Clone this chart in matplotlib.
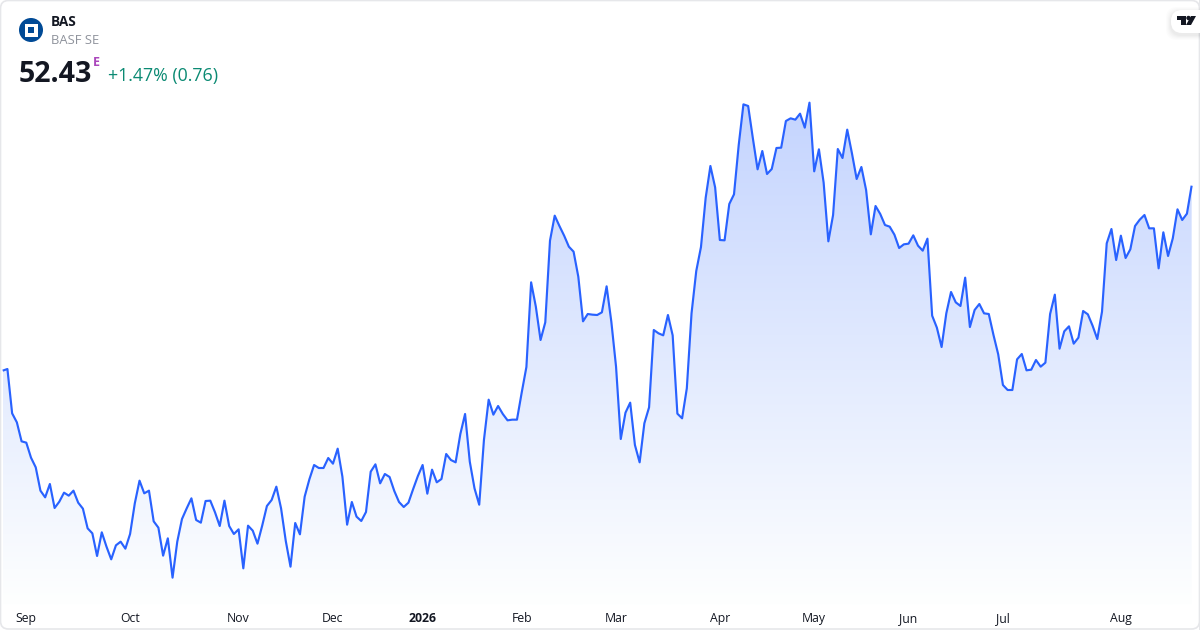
import matplotlib
matplotlib.use('Agg')
import matplotlib.pyplot as plt
import numpy as np
from matplotlib.colors import LinearSegmentedColormap
from matplotlib.patches import Circle, FancyBboxPatch, Polygon, Rectangle

plt.rcParams['font.family'] = ['Open Sans', 'DejaVu Sans']

# Daily closes
prices = [
    46.88, 46.93, 45.60, 45.33, 44.76, 44.72, 44.27, 43.98, 43.28, 43.08, 43.48,
    42.76, 42.95, 43.22, 43.13, 43.28, 42.92, 42.74, 42.15, 42.00, 41.32, 42.03,
    41.60, 41.22, 41.64, 41.75, 41.54, 41.98, 42.90, 43.58, 43.20, 43.28, 42.36,
    42.17, 41.33, 41.85, 40.67, 41.75, 42.43, 42.75, 43.05, 42.40, 42.32, 42.97,
    42.98, 42.63, 42.22, 42.98, 42.22, 41.98, 42.12, 40.95, 42.23, 42.08, 41.69,
    42.23, 42.82, 43.00, 43.40, 42.75, 41.77, 41.00, 42.31, 41.97, 43.10, 43.62,
    44.05, 43.96, 43.96, 44.26, 44.09, 44.54, 43.70, 42.26, 42.94, 42.50, 42.37,
    42.64, 43.85, 44.07, 43.50, 43.78, 43.69, 43.27, 42.94, 42.79, 42.92, 43.33,
    43.72, 44.05, 43.19, 43.91, 43.53, 43.63, 44.38, 44.20, 44.13, 44.98, 45.58,
    44.15, 43.35, 42.86, 44.80, 46.01, 45.56, 45.82, 45.58, 45.39, 45.41, 45.41,
    46.22, 46.99, 49.53, 48.80, 47.80, 48.33, 50.78, 51.53, 51.22, 50.93, 50.60,
    50.45, 49.70, 48.36, 48.58, 48.56, 48.55, 48.63, 49.41, 48.35, 47.00, 44.83,
    45.62, 45.92, 44.65, 44.13, 45.30, 45.78, 48.10, 48.00, 47.94, 48.55, 47.94,
    45.59, 45.45, 46.35, 48.60, 49.87, 50.59, 52.07, 53.02, 52.38, 50.80, 50.79,
    51.88, 52.17, 53.65, 54.87, 54.82, 53.85, 52.92, 53.47, 52.78, 52.93, 53.56,
    53.57, 54.37, 54.45, 54.41, 54.59, 54.17, 54.92, 52.86, 53.52, 52.52, 50.76,
    51.55, 53.53, 53.26, 54.11, 53.40, 52.63, 52.99, 52.30, 50.97, 51.82, 51.58,
    51.25, 51.20, 50.96, 50.56, 50.67, 50.69, 50.94, 50.63, 50.48, 50.84, 48.53,
    48.17, 47.59, 48.60, 49.24, 48.93, 48.82, 49.67, 48.19, 48.70, 48.88, 48.60,
    48.58, 47.95, 47.37, 46.45, 46.30, 46.30, 47.22, 47.38, 46.89, 46.91, 47.20,
    47.00, 47.12, 48.58, 49.16, 47.54, 48.06, 48.21, 47.69, 47.87, 48.67, 48.57,
    48.23, 47.83, 48.65, 50.70, 51.13, 50.20, 50.93, 50.26, 50.52, 51.22, 51.41,
    51.55, 51.15, 51.15, 49.95, 51.03, 50.32, 50.85, 51.72, 51.40, 51.59, 52.43,
]
tick_days = [5, 27, 50, 70, 89, 110, 130, 152, 172, 192, 212, 237]
tick_labels = ['Sep', 'Oct', 'Nov', 'Dec', '2026', 'Feb', 'Mar', 'Apr', 'May', 'Jun', 'Jul', 'Aug']

days = np.arange(len(prices))

fig = plt.figure(figsize=(12, 6.3), dpi=100, facecolor='white')

# Price axes, plot area ends 25px above the bottom edge
ax = fig.add_axes([0, 25 / 630, 1, 605 / 630], zorder=1)
ax.patch.set_alpha(0)
for spine in ax.spines.values():
    spine.set_visible(False)
ax.set_yticks([])
ax.set_xticks(tick_days)
ax.set_xticklabels(tick_labels, fontsize=8.8, color='#131722')
ax.get_xticklabels()[4].set_fontweight('bold')
ax.tick_params(axis='x', length=0, pad=5)

# Gradient under the line, clipped to the area
area = ax.fill_between(days, prices, 39.85, color='none')
cmap = LinearSegmentedColormap.from_list('area', ['#c4d4fe', '#feffff'])
gradient = np.linspace(0, 1, 256).reshape(-1, 1)
im = ax.imshow(gradient, extent=[days[0], days[-1], 39.85, 55], origin='upper',
               aspect='auto', cmap=cmap, zorder=1)
im.set_clip_path(area.get_paths()[0], transform=ax.transData)
ax.set_xlim(-0.572, 253.77)
ax.set_ylim(39.85, 58)

ax.plot(days, prices, color='#2962ff', linewidth=1.55, solid_joinstyle='round',
        solid_capstyle='butt', zorder=2)

# Overlay in pixel coordinates for the card, header and logos
over = fig.add_axes([0, 0, 1, 1], zorder=2)
over.set_xlim(0, 1200)
over.set_ylim(630, 0)
over.axis('off')
over.patch.set_alpha(0)

over.add_patch(FancyBboxPatch((0.5, 0.5), 1199, 628.5, boxstyle='round,pad=0,rounding_size=8',
                              fill=False, edgecolor='#e6e7ea', linewidth=1.2))
over.add_patch(Rectangle((1198.5, 0), 1.5, 630, color='#e6e7ea', linewidth=0))

# BASF logo
over.add_patch(Circle((31, 30), 12, color='#004a96', linewidth=0))
over.add_patch(Rectangle((24.5, 23.5), 13, 13, color='white', linewidth=0))
over.add_patch(Rectangle((28, 27), 6, 6, color='#004a96', linewidth=0))

over.text(51, 22.5, 'BAS', fontsize=9.8, fontweight='bold', color='#131722', va='center')
over.text(51, 41, 'BASF SE', fontsize=9.4, color='#8f939c', va='center')
over.text(19, 74, '52.43', fontsize=20.5, fontweight='bold', color='#131722', va='center')
over.text(93, 63, 'E', fontsize=9, fontweight='bold', color='#ab47bc', va='center')
over.text(108, 76, '+1.47% (0.76)', fontsize=12.8, color='#0b8a73', va='center')

# TradingView badge, runs off the right edge
for offset, alpha in [(5, 0.01), (4, 0.012), (3, 0.015), (2, 0.018), (1, 0.02)]:
    over.add_patch(FancyBboxPatch((1171 - offset, 10 - offset + 2), 50 + offset * 2, 23 + offset * 2,
                                  boxstyle='round,pad=0,rounding_size=11', color='black',
                                  alpha=alpha, linewidth=0))
over.add_patch(FancyBboxPatch((1171, 10), 50, 23, boxstyle='round,pad=0,rounding_size=11',
                              color='white', linewidth=0))
over.add_patch(Polygon([(1177, 16), (1186, 16), (1186, 25), (1181, 25), (1181, 20), (1177, 20)],
                       color='#131722', linewidth=0))
over.add_patch(Circle((1188.5, 18), 2.2, color='#131722', linewidth=0))
over.add_patch(Polygon([(1191, 16), (1196, 16), (1191, 25), (1186, 25)], color='#131722', linewidth=0))

fig.savefig('out.png', dpi=100)
